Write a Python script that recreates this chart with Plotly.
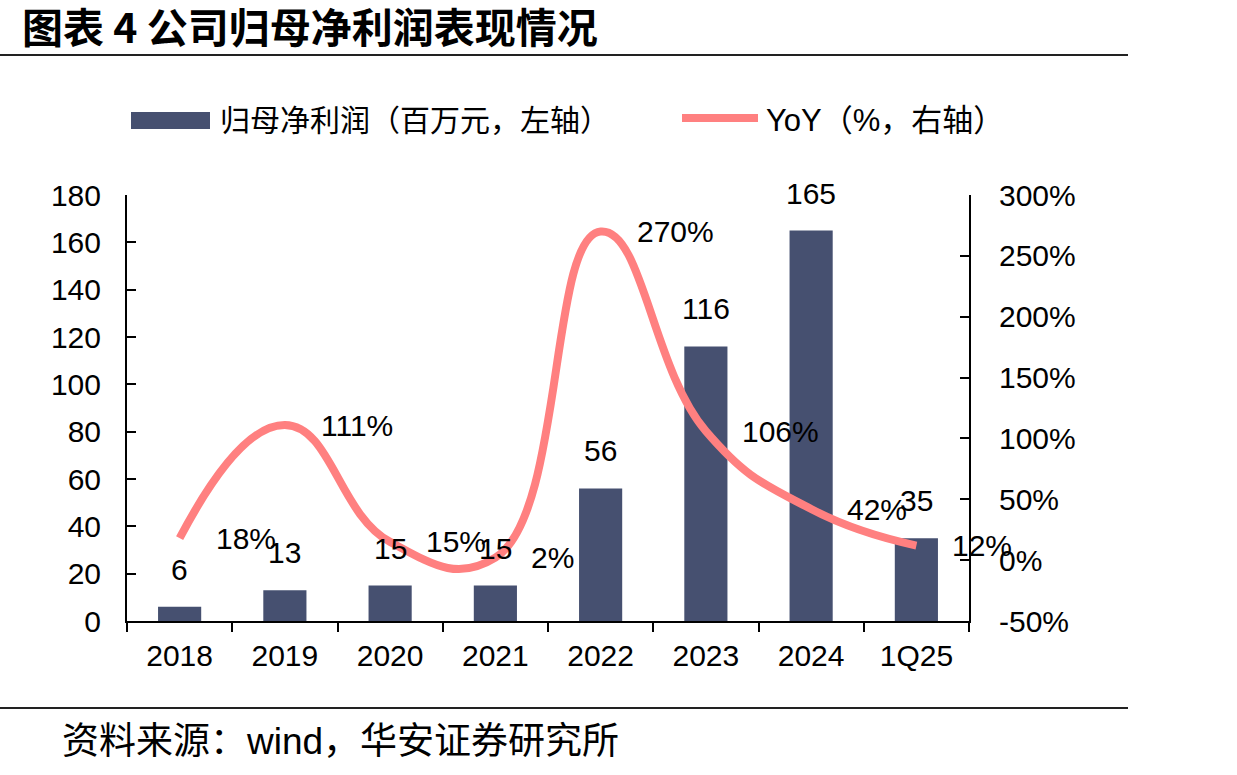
import plotly.graph_objects as go

categories = ["2018", "2019", "2020", "2021", "2022", "2023", "2024", "1Q25"]
net_profit = [6, 13, 15, 15, 56, 116, 165, 35]
yoy_pct = [18, 111, 15, 2, 270, 106, 42, 12]
yoy_labels = ["18%", "111%", "15%", "2%", "270%", "106%", "42%", "12%"]
left_ticks = [0, 20, 40, 60, 80, 100, 120, 140, 160, 180]
right_ticks = [-50, 0, 50, 100, 150, 200, 250, 300]
right_tick_text = ["-50%", "0%", "50%", "100%", "150%", "200%", "250%", "300%"]

title_text = "图表 4 公司归母净利润表现情况"
legend_bar = "归母净利润（百万元，左轴）"
legend_line = "YoY（%，右轴）"
source_text = "资料来源：wind，华安证券研究所"

BAR_COLOR = "#465070"
LINE_COLOR = "#FF8080"
NUM_FONT = "Liberation Sans, Arial, Noto Sans CJK SC"
CJK_FONT = "Liberation Sans, Noto Sans CJK SC"

W, H = 1237, 775
L, R, T, B = 127, 969, 195, 621


def px_to_paper_x(px):
    return (px - L) / (R - L)


def px_to_paper_y(py):
    return (B - py) / (B - T)


fig = go.Figure()
fig.add_trace(go.Bar(
    x=categories, y=net_profit, marker=dict(color=BAR_COLOR, line=dict(width=0)),
    width=0.41, yaxis="y", showlegend=False, hoverinfo="skip",
))
fig.add_trace(go.Scatter(
    x=categories, y=yoy_pct, yaxis="y2", mode="lines",
    line=dict(color=LINE_COLOR, width=8, shape="spline", smoothing=1.3),
    showlegend=False, hoverinfo="skip",
))

annotations = []
for i, v in enumerate(net_profit):
    annotations.append(dict(
        x=i, y=v, xref="x", yref="y", text=str(v), showarrow=False,
        xanchor="center", yanchor="bottom", yshift=19,
        font=dict(family=NUM_FONT, size=30, color="black"),
    ))
for i, (v, t) in enumerate(zip(yoy_pct, yoy_labels)):
    annotations.append(dict(
        x=i, y=v, xref="x", yref="y2", text=t, showarrow=False,
        xanchor="left", yanchor="middle", xshift=34,
        font=dict(family=NUM_FONT, size=30, color="black"),
    ))

annotations.append(dict(
    x=px_to_paper_x(20), y=px_to_paper_y(25), xref="paper", yref="paper",
    text="<b>" + title_text + "</b>",
    showarrow=False, xanchor="left", yanchor="middle",
    font=dict(family="Noto Sans CJK SC", size=41, color="black"),
))
annotations.append(dict(
    x=px_to_paper_x(218), y=px_to_paper_y(120), xref="paper", yref="paper",
    text=legend_bar, showarrow=False, xanchor="left", yanchor="middle",
    font=dict(family=CJK_FONT, size=30, color="black"),
))
annotations.append(dict(
    x=px_to_paper_x(764), y=px_to_paper_y(120), xref="paper", yref="paper",
    text=legend_line, showarrow=False, xanchor="left", yanchor="middle",
    font=dict(family=CJK_FONT, size=31, color="black"),
))
annotations.append(dict(
    x=px_to_paper_x(60), y=px_to_paper_y(741), xref="paper", yref="paper",
    text=source_text, showarrow=False, xanchor="left", yanchor="middle",
    font=dict(family=CJK_FONT, size=37, color="black"),
))

shapes = [
    dict(type="rect", xref="paper", yref="paper",
         x0=px_to_paper_x(131), x1=px_to_paper_x(210),
         y0=px_to_paper_y(112), y1=px_to_paper_y(129),
         fillcolor=BAR_COLOR, line=dict(width=0)),
    dict(type="line", xref="paper", yref="paper",
         x0=px_to_paper_x(682), x1=px_to_paper_x(758),
         y0=px_to_paper_y(118), y1=px_to_paper_y(118),
         line=dict(color=LINE_COLOR, width=8)),
    dict(type="line", xref="paper", yref="paper",
         x0=px_to_paper_x(0), x1=px_to_paper_x(1128),
         y0=px_to_paper_y(55), y1=px_to_paper_y(55),
         line=dict(color="#222222", width=2)),
    dict(type="line", xref="paper", yref="paper",
         x0=px_to_paper_x(0), x1=px_to_paper_x(1128),
         y0=px_to_paper_y(708), y1=px_to_paper_y(708),
         line=dict(color="#222222", width=2)),
]

fig.update_layout(
    width=W, height=H,
    margin=dict(l=L, r=W - R, t=T, b=H - B, pad=0),
    paper_bgcolor="white", plot_bgcolor="white",
    annotations=annotations, shapes=shapes,
    xaxis=dict(
        type="category", range=[-0.5, len(categories) - 0.5],
        showline=True, linecolor="black", linewidth=2,
        ticks="outside", ticklen=9, tickwidth=2, tickcolor="black",
        tickson="boundaries", showgrid=False, zeroline=False,
        tickfont=dict(family=NUM_FONT, size=30, color="black"),
        ticklabelstandoff=7, tickangle=0,
    ),
    yaxis=dict(
        range=[0, 180], tickvals=left_ticks, showline=True, linecolor="black",
        linewidth=2, ticks="inside", ticklen=9, tickwidth=2, tickcolor="black",
        showgrid=False, zeroline=False,
        tickfont=dict(family=NUM_FONT, size=30, color="black"),
        ticklabelstandoff=18,
    ),
    yaxis2=dict(
        range=[-50, 300], tickvals=right_ticks, ticktext=right_tick_text,
        overlaying="y", side="right", showline=True, linecolor="black",
        linewidth=2, ticks="inside", ticklen=9, tickwidth=2, tickcolor="black",
        showgrid=False, zeroline=False,
        tickfont=dict(family=NUM_FONT, size=30, color="black"),
        ticklabelstandoff=22,
    ),
)

fig.write_html("out.html")
